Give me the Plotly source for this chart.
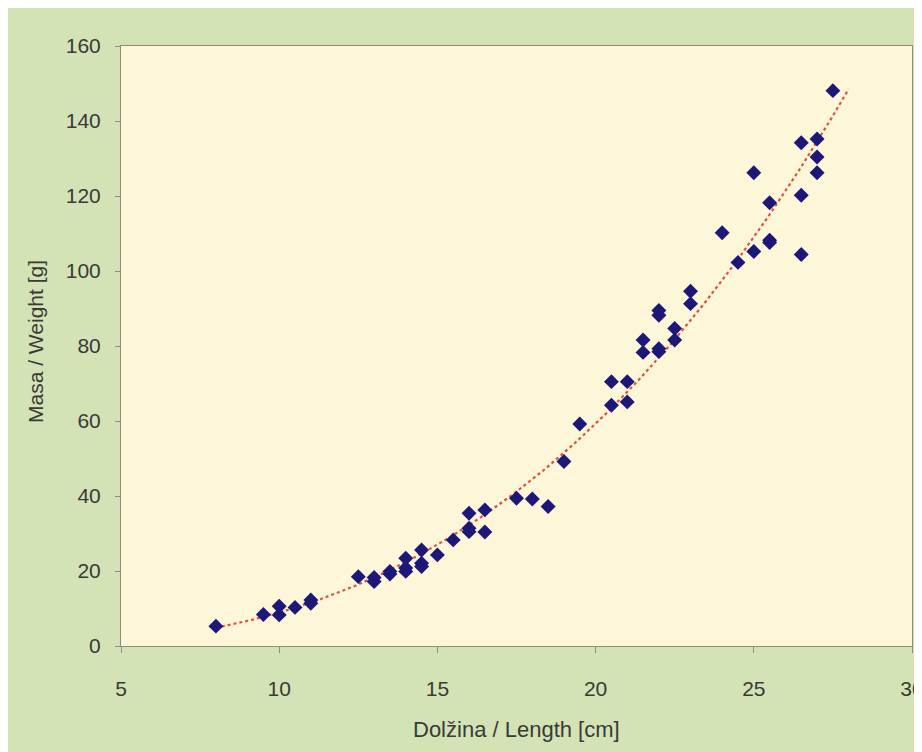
import numpy as np
import plotly.graph_objects as go

# Data
length_cm = [8.0, 9.5, 10.0, 10.0, 10.5, 11.0, 11.0,
             12.5, 13.0, 13.0, 13.5, 13.5, 14.0, 14.0, 14.0,
             14.5, 14.5, 14.5, 15.0, 15.5, 16.0, 16.0, 16.0,
             16.5, 16.5, 17.5, 18.0, 18.5, 19.0, 19.5,
             20.5, 20.5, 21.0, 21.0, 21.5, 21.5,
             22.0, 22.0, 22.0, 22.0, 22.5, 22.5, 23.0, 23.0,
             24.0, 24.5, 25.0, 25.0, 25.5, 25.5, 25.5,
             26.5, 26.5, 26.5, 27.0, 27.0, 27.0, 27.5]
weight_g = [5.3, 8.4, 10.6, 8.3, 10.3, 12.3, 11.4,
            18.5, 18.3, 17.2, 19.9, 19.2, 23.4, 20.8, 19.9,
            25.6, 22.1, 21.2, 24.3, 28.3, 35.4, 31.4, 30.5,
            36.3, 30.4, 39.4, 39.2, 37.2, 49.2, 59.2,
            70.5, 64.2, 70.5, 65.1, 81.6, 78.3,
            89.5, 88.2, 79.3, 78.5, 84.7, 81.6, 94.6, 91.3,
            110.2, 102.3, 126.2, 105.2, 118.2, 108.2, 107.6,
            134.2, 120.2, 104.4, 135.2, 130.4, 126.2, 148.1]
trend_range = [8.0, 28.0]

x_ticks = [5, 10, 15, 20, 25, 30]
y_ticks = [0, 20, 40, 60, 80, 100, 120, 140, 160]
x_title = "Dolžina / Length [cm]"
y_title = "Masa / Weight [g]"

# Power trendline fitted to the data (as the spreadsheet does)
b, ln_a = np.polyfit(np.log(length_cm), np.log(weight_g), 1)
xt = np.linspace(trend_range[0], trend_range[1], 200)
yt = np.exp(ln_a) * xt ** b

GREEN = "#d3e3b6"
PLOT_BG = "#fdf6d8"
TEXT = "#3a3a36"
AXIS = "#8c8c80"
FONT = "Liberation Sans, Arial, sans-serif"

fig = go.Figure()
fig.add_trace(go.Scatter(
    x=xt, y=yt, mode="lines",
    line=dict(color="#e0503a", width=2.2, dash="dot"),
    hoverinfo="skip", showlegend=False))
fig.add_trace(go.Scatter(
    x=length_cm, y=weight_g, mode="markers",
    marker=dict(symbol="diamond", size=11.5, color="#1d1878",
                line=dict(width=0)),
    showlegend=False))

fig.update_layout(
    width=914, height=744,
    margin=dict(l=113, r=10, t=38, b=106),
    paper_bgcolor=GREEN,
    plot_bgcolor=PLOT_BG,
    font=dict(family=FONT, size=21, color=TEXT),
    xaxis=dict(
        range=[5, 30], tickvals=x_ticks, ticktext=[str(v) for v in x_ticks],
        showgrid=False, zeroline=False, automargin=False,
        showline=True, linecolor=AXIS, linewidth=1, mirror=True,
        ticks="outside", ticklen=6, tickcolor=AXIS,
        ticklabelstandoff=18, ticklabeloverflow="allow",
        tickfont=dict(family=FONT, size=21, color=TEXT),
    ),
    yaxis=dict(
        range=[0, 160], tickvals=y_ticks, ticktext=[str(v) for v in y_ticks],
        showgrid=False, zeroline=False, automargin=False,
        showline=True, linecolor=AXIS, linewidth=1, mirror=True,
        ticks="outside", ticklen=5, tickcolor=AXIS,
        ticklabelstandoff=10,
        tickfont=dict(family=FONT, size=21, color=TEXT),
    ),
    annotations=[
        dict(text=x_title, xref="paper", yref="paper", x=0.5, y=0,
             xanchor="center", yanchor="middle", yshift=-83, showarrow=False,
             font=dict(family=FONT, size=22, color=TEXT)),
        dict(text=y_title, xref="paper", yref="paper", x=0, y=0.5,
             xanchor="center", yanchor="middle", xshift=-86, yshift=4,
             textangle=-90, showarrow=False,
             font=dict(family=FONT, size=21, color=TEXT)),
    ],
)

fig.write_html("out.html")
